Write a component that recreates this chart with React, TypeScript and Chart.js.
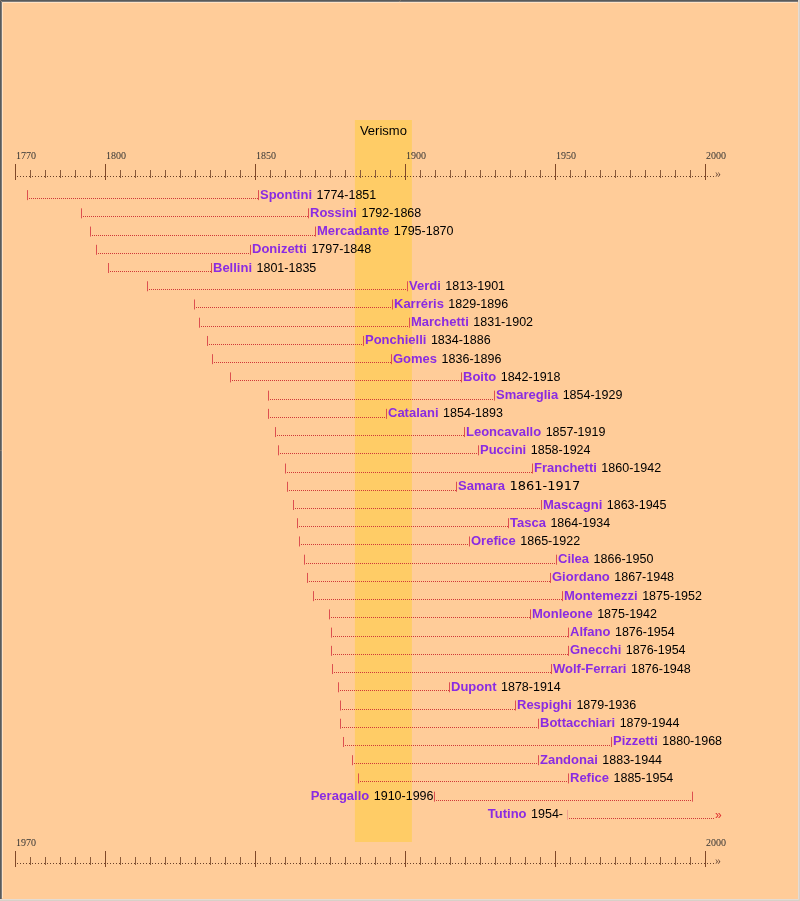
import React, { useEffect, useRef } from "react";
import { Chart, registerables } from "chart.js";

Chart.register(...registerables);

// ---- data ----
const composers = [
  "Spontini", "Rossini", "Mercadante", "Donizetti", "Bellini", "Verdi", "Karréris",
  "Marchetti", "Ponchielli", "Gomes", "Boito", "Smareglia", "Catalani", "Leoncavallo",
  "Puccini", "Franchetti", "Samara", "Mascagni", "Tasca", "Orefice", "Cilea", "Giordano",
  "Montemezzi", "Monleone", "Alfano", "Gnecchi", "Wolf-Ferrari", "Dupont", "Respighi",
  "Bottacchiari", "Pizzetti", "Zandonai", "Refice", "Peragallo", "Tutino",
];
const lifeLabels = [
  "1774-1851", "1792-1868", "1795-1870", "1797-1848", "1801-1835", "1813-1901", "1829-1896",
  "1831-1902", "1834-1886", "1836-1896", "1842-1918", "1854-1929", "1854-1893", "1857-1919",
  "1858-1924", "1860-1942", "1861-1917", "1863-1945", "1864-1934", "1865-1922", "1866-1950", "1867-1948",
  "1875-1952", "1875-1942", "1876-1954", "1876-1954", "1876-1948", "1878-1914", "1879-1936",
  "1879-1944", "1880-1968", "1883-1944", "1885-1954", "1910-1996", "1954- ",
];
const lineStarts = [
  1774, 1792, 1795, 1797, 1801, 1814, 1829.7,
  1831.3, 1834, 1835.5, 1841.5, 1854.3, 1854.3, 1856.5,
  1857.5, 1860, 1860.7, 1862.5, 1864, 1864.7, 1866.3, 1867.3,
  1869.3, 1874.7, 1875.3, 1875.3, 1875.7, 1877.7, 1878.3,
  1878.3, 1879.3, 1882.3, 1884.3, 1909.5, 1954,
];
const lineEnds: (number | null)[] = [
  1851, 1867.7, 1870, 1848.3, 1835.3, 1900.7, 1895.7,
  1901.3, 1886, 1895.3, 1918.7, 1929.7, 1893.7, 1919.7,
  1924.3, 1942.3, 1917, 1945.3, 1934.3, 1921.3, 1950.3, 1948.3,
  1952.3, 1941.7, 1954.3, 1954.3, 1948.7, 1914.7, 1936.7,
  1944.3, 1968.7, 1944.3, 1954.3, 1995.5, null,
];
const labelOnLeft = ["Peragallo", "Tutino"];
const altYearFont = ["Samara"];
const openEndYear = 2003;

const topAxisLabels = ["1770", "1800", "1850", "1900", "1950", "2000"];
const topAxisLabelYears = [1770, 1800, 1850, 1900, 1950, 2000];
const bottomAxisLabels = ["1970", "2000"];
const bottomAxisLabelYears = [1770, 2000];
const majorTickYears = [1770, 1800, 1850, 1900, 1950, 2000];
const axisFirstYear = 1770;
const axisLastYear = 2000;
const minorTickStep = 5;

const verismoRange = [1883.3, 1902.3];
const verismoLabel = "Verismo";

// ---- styles ----
const BG = "#FFCC99";
const BAND = "#FFCC66";
const NAME_COLOR = "#8A2BE2";
const LINE_COLOR = "#D03838";
const TICK_COLOR = "#DD5050";
const AXIS_COLOR = "#6A4028";

function drawAxis(ctx: CanvasRenderingContext2D, xs: any, yDots: number, labels: string[], labelYears: number[]) {
  ctx.save();
  const x0 = Math.round(xs.getPixelForValue(axisFirstYear));
  const x1 = Math.round(xs.getPixelForValue(openEndYear));
  ctx.strokeStyle = AXIS_COLOR;
  ctx.lineWidth = 1;
  ctx.setLineDash([1, 2]);
  ctx.beginPath();
  ctx.moveTo(x0 + 2, yDots + 0.5);
  ctx.lineTo(x1, yDots + 0.5);
  ctx.stroke();
  ctx.setLineDash([]);
  for (let y = axisFirstYear; y <= axisLastYear; y += minorTickStep) {
    const px = Math.round(xs.getPixelForValue(y)) + 0.5;
    const major = majorTickYears.includes(y);
    ctx.strokeStyle = major ? "#804828" : "#8A5A3A";
    ctx.beginPath();
    if (major) {
      ctx.moveTo(px, yDots - 12);
      ctx.lineTo(px, yDots + 4);
    } else {
      ctx.moveTo(px, yDots - 6);
      ctx.lineTo(px, yDots + 2);
    }
    ctx.stroke();
  }
  ctx.fillStyle = "#333";
  ctx.font = '10px "Liberation Serif", serif';
  ctx.textBaseline = "middle";
  ctx.textAlign = "left";
  labels.forEach((l, i) => {
    ctx.fillText(l, xs.getPixelForValue(labelYears[i]) + 1, yDots - 20);
  });
  ctx.fillStyle = "#6A4A3A";
  ctx.font = '12px "Liberation Serif", serif';
  ctx.fillText("»", x1 + 1, yDots - 2);
  ctx.restore();
}

const timelinePlugin = {
  id: "timeline",
  beforeDraw(chart: any) {
    const { ctx, chartArea, width, height } = chart;
    const xs = chart.scales.x;
    ctx.save();
    ctx.fillStyle = BG;
    ctx.fillRect(0, 0, width, height);
    const bx0 = xs.getPixelForValue(verismoRange[0]);
    const bx1 = xs.getPixelForValue(verismoRange[1]);
    ctx.fillStyle = BAND;
    ctx.fillRect(bx0, chartArea.top - 65, bx1 - bx0, chartArea.bottom + 19 - (chartArea.top - 65));
    ctx.fillStyle = "#000";
    ctx.font = '13px "Liberation Sans", Arial, sans-serif';
    ctx.textAlign = "center";
    ctx.textBaseline = "middle";
    ctx.fillText(verismoLabel, (bx0 + bx1) / 2, chartArea.top - 54);
    ctx.restore();
    drawAxis(ctx, xs, chartArea.top - 9, topAxisLabels, topAxisLabelYears);
    drawAxis(ctx, xs, chartArea.bottom + 40, bottomAxisLabels, bottomAxisLabelYears);
  },
  afterDatasetsDraw(chart: any) {
    const { ctx } = chart;
    const meta = chart.getDatasetMeta(0);
    ctx.save();
    meta.data.forEach((el: any, i: number) => {
      const name = composers[i];
      const open = lineEnds[i] === null;
      const xs0 = Math.round(el.base);
      const xe0 = Math.round(el.x);
      const xStart = xs0 + 0.5;
      const xEnd = xe0 + 0.5;
      const yc = el.y;
      const yLine = Math.round(yc + 4) + 0.5;
      // dotted life line
      ctx.strokeStyle = LINE_COLOR;
      ctx.lineWidth = 1;
      ctx.setLineDash([1, 1]);
      ctx.beginPath();
      ctx.moveTo(xs0 + 2, yLine);
      ctx.lineTo(xe0, yLine);
      ctx.stroke();
      ctx.setLineDash([]);
      // ticks
      ctx.strokeStyle = open ? "#F0A090" : TICK_COLOR;
      ctx.beginPath();
      ctx.moveTo(xStart, yc - 4);
      ctx.lineTo(xStart, yc + 6);
      ctx.stroke();
      if (!open) {
        ctx.strokeStyle = TICK_COLOR;
        ctx.beginPath();
        ctx.moveTo(xEnd, yc - 4);
        ctx.lineTo(xEnd, yc + 6);
        ctx.stroke();
      } else {
        ctx.fillStyle = "#E03030";
        ctx.font = '12px "Liberation Sans", Arial, sans-serif';
        ctx.textAlign = "left";
        ctx.textBaseline = "alphabetic";
        ctx.fillText("»", xe0 + 1, yc + 5);
      }
      // labels
      const nameFont = 'bold 13px "Liberation Sans", Arial, sans-serif';
      const yearFont = altYearFont.includes(name)
        ? '13px "DejaVu Sans", sans-serif'
        : '12.5px "Liberation Sans", Arial, sans-serif';
      const baseY = yc + 4.5;
      ctx.textBaseline = "alphabetic";
      ctx.textAlign = "left";
      ctx.font = nameFont;
      const nameW = ctx.measureText(name).width;
      ctx.font = yearFont;
      const yearW = ctx.measureText(lifeLabels[i]).width;
      const gap = 4.5;
      let nx: number;
      if (labelOnLeft.includes(name)) {
        nx = xStart - 1 - yearW - gap - nameW;
      } else {
        nx = xEnd + 1.5;
      }
      ctx.font = nameFont;
      ctx.fillStyle = NAME_COLOR;
      ctx.fillText(name, nx, baseY);
      ctx.font = yearFont;
      ctx.fillStyle = "#000";
      ctx.fillText(lifeLabels[i], nx + nameW + gap, baseY);
    });
    ctx.restore();
  },
  afterDraw(chart: any) {
    const { ctx, width, height } = chart;
    ctx.save();
    ctx.lineWidth = 1;
    ctx.strokeStyle = "#5A5A5A";
    ctx.beginPath();
    ctx.moveTo(0.5, height);
    ctx.lineTo(0.5, 0.5);
    ctx.lineTo(width, 0.5);
    ctx.stroke();
    ctx.strokeStyle = "#7A7A7A";
    ctx.beginPath();
    ctx.moveTo(1.5, height - 2);
    ctx.lineTo(1.5, 1.5);
    ctx.lineTo(width - 2, 1.5);
    ctx.stroke();
    ctx.strokeStyle = "#FFE2C4";
    ctx.beginPath();
    ctx.moveTo(2.5, height - 3);
    ctx.lineTo(2.5, 2.5);
    ctx.lineTo(width - 3, 2.5);
    ctx.stroke();
    ctx.strokeStyle = "#E4DCD4";
    ctx.beginPath();
    ctx.moveTo(0, height - 1.5);
    ctx.lineTo(width - 1.5, height - 1.5);
    ctx.lineTo(width - 1.5, 0);
    ctx.stroke();
    ctx.strokeStyle = "#D8D0C8";
    ctx.beginPath();
    ctx.moveTo(0, height - 0.5);
    ctx.lineTo(width - 0.5, height - 0.5);
    ctx.lineTo(width - 0.5, 0);
    ctx.stroke();
    ctx.restore();
  },
};

export default function App() {
  const ref = useRef<HTMLCanvasElement>(null);
  useEffect(() => {
    if (!ref.current) return;
    const chart = new Chart(ref.current, {
      type: "bar",
      data: {
        labels: composers,
        datasets: [
          {
            data: lineStarts.map((s, i) => [s, lineEnds[i] ?? openEndYear]) as any,
            backgroundColor: "rgba(0,0,0,0)",
            borderWidth: 0,
            barThickness: 1,
          },
        ],
      },
      options: {
        indexAxis: "y",
        responsive: false,
        animation: false,
        devicePixelRatio: 1,
        layout: { padding: { left: 15, right: 80, top: 185, bottom: 78 } },
        scales: {
          x: { type: "linear", min: 1770, max: 2005, display: false },
          y: { display: false, offset: true },
        },
        plugins: { legend: { display: false }, tooltip: { enabled: false } },
        events: [],
      },
      plugins: [timelinePlugin],
    });
    return () => chart.destroy();
  }, []);
  return (
    <div style={{ position: "absolute", left: 0, top: 0, width: 800, height: 901 }}>
      <canvas ref={ref} width={800} height={901} style={{ display: "block", width: 800, height: 901 }} />
    </div>
  );
}
